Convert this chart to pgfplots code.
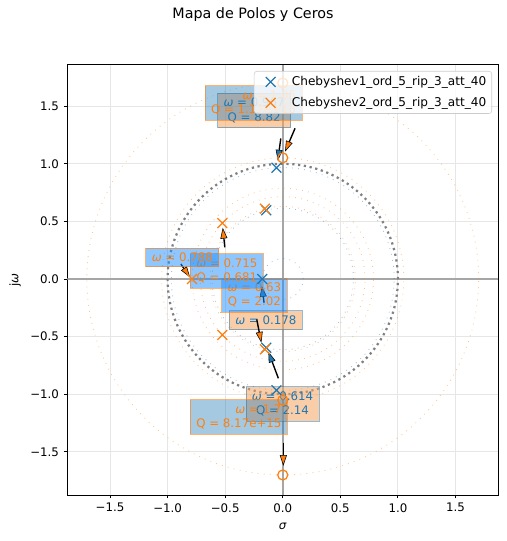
\documentclass[border=0pt]{standalone}
\usepackage{pgfplots}
\pgfplotsset{compat=1.18}
\usepackage{fontspec}
\setmainfont{DejaVu Sans}[ItalicFont={DejaVu Sans Oblique}]
\usetikzlibrary{arrows.meta}
\definecolor{tabblue}{RGB}{31,119,180}
\definecolor{taborange}{RGB}{255,127,14}
\definecolor{dodger}{RGB}{30,144,255}
\definecolor{sandy}{RGB}{244,164,96}
\definecolor{gridc}{RGB}{230,230,230}
\definecolor{legc}{RGB}{204,204,204}
\newcommand{\fs}{\fontsize{8.5}{10.2}\selectfont}
\newcommand{\w}{\textit{ω}}
\tikzset{
  boxA/.style={font=\fs, align=center, text=tabblue, fill=sandy, fill opacity=0.55, text opacity=1, draw=tabblue, draw opacity=0.5, line width=0.6pt, inner xsep=4.3pt, inner ysep=3.6pt},
  boxB/.style={font=\fs, align=center, text=taborange, fill=dodger, fill opacity=0.5, text opacity=1, draw=taborange, draw opacity=0.6, line width=0.6pt, inner xsep=4.3pt, inner ysep=3.6pt},
  boxZ/.style={font=\fs, align=right, text=taborange, fill=tabblue, fill opacity=0.4, text opacity=1, draw=taborange, draw opacity=0.6, line width=0.6pt, inner xsep=4.3pt, inner ysep=3.6pt},
  arA/.style={black, line width=1pt, -{Triangle[length=7.8pt, width=5pt, fill=tabblue, line width=0.4pt]}},
  arB/.style={black, line width=1pt, -{Triangle[length=7.8pt, width=5pt, fill=taborange, line width=0.4pt]}},
  circA/.style={tabblue, opacity=0.45, line width=0.6pt, dash pattern=on 0.6pt off 3.8pt},
  circB/.style={taborange, opacity=0.45, line width=0.6pt, dash pattern=on 0.6pt off 3.8pt},
}
\begin{document}
\begin{tikzpicture}
\begin{axis}[
  at={(0,0)}, anchor=south west, scale only axis,
  width=310.32pt, height=309.8pt,
  xmin=-1.871, xmax=1.872, ymin=-1.875, ymax=1.860,
  xtick={-1.5,-1,-0.5,0,0.5,1,1.5},
  xticklabels={−1.5,−1.0,−0.5,0.0,0.5,1.0,1.5},
  ytick={-1.5,-1,-0.5,0,0.5,1,1.5},
  yticklabels={−1.5,−1.0,−0.5,0.0,0.5,1.0,1.5},
  tick label style={font=\fs},
  tick align=outside, tick pos=left,
  major tick length=2.5pt,
  every tick/.style={black, line width=0.6pt},
  axis line style={line width=0.6pt},
  grid=major, grid style={gridc, line width=0.6pt},
  xlabel={\textit{σ}}, ylabel={j\textit{ω}},
  label style={font=\fs},
  xlabel style={at={(axis description cs:0.5,-0.072)}, anchor=center},
  ylabel style={at={(axis description cs:-0.121,0.5)}, anchor=center},
  legend style={at={(axis description cs:0.9854,0.9854)}, anchor=north east, font=\fontsize{8.7}{10.4}\selectfont,
    draw=legc, rounded corners=2pt, fill=white, fill opacity=0.8, text opacity=1,
    inner xsep=2pt, inner ysep=1.6pt, row sep=3pt},
  legend cell align=left,
  legend image code/.code={\path (0,0) (0.8cm,0); \draw[#1] plot coordinates {(0.34cm,0cm)};},
]
% axis lines
\addplot[forget plot, black!35, line width=1.4pt] coordinates {(0,-1.875) (0,1.86)};
\addplot[forget plot, black!35, line width=1.4pt] coordinates {(-1.871,0) (1.872,0)};
% circles
\draw[gray, line width=1.6pt, dash pattern=on 1.6pt off 2.6pt] (axis cs:0,0) circle[radius=1];
\draw[circA] (axis cs:0,0) circle[radius=0.9675];
\draw[circA] (axis cs:0,0) circle[radius=0.6140];
\draw[circA] (axis cs:0,0) circle[radius=0.1774];
\draw[circB] (axis cs:0,0) circle[radius=1.0515];
\draw[circB] (axis cs:0,0) circle[radius=1.7013];
\draw[circB] (axis cs:0,0) circle[radius=0.6305];
\draw[circB] (axis cs:0,0) circle[radius=0.7148];
\draw[circB] (axis cs:0,0) circle[radius=0.7878];
% poles and zeros
\addplot[only marks, mark=x, mark size=5pt, color=tabblue, mark options={line width=0.9pt}]
  coordinates {(-0.0548,0.9659) (-0.0548,-0.9659) (-0.1435,0.5971) (-0.1435,-0.5971) (-0.1774,0)};
\addlegendentry{Chebyshev1\_ord\_5\_rip\_3\_att\_40}
\addplot[only marks, mark=x, mark size=5pt, color=taborange, mark options={line width=0.9pt}]
  coordinates {(-0.1559,0.6109) (-0.1559,-0.6109) (-0.5248,0.4854) (-0.5248,-0.4854) (-0.7878,0)};
\addlegendentry{Chebyshev2\_ord\_5\_rip\_3\_att\_40}
\addplot[forget plot, only marks, mark=o, mark size=3.6pt, color=taborange, mark options={line width=0.9pt}]
  coordinates {(0,1.0515) (0,-1.0515) (0,1.7013) (0,-1.7013)};
% annotations Chebyshev1
\draw[arA] (axis cs:-0.017,1.220) -- (axis cs:-0.043,1.027);
\node[boxA] at (axis cs:-0.249,1.463) {\w{} = 0.967\\Q = 8.82};
\draw[arA] (axis cs:-0.038,-0.862) -- (axis cs:-0.125,-0.631);
\node[boxA] at (axis cs:-0.002,-1.085) {\w{} = 0.614\\Q = 2.14};
\draw[arA] (axis cs:-0.162,-0.206) -- (axis cs:-0.182,-0.061);
\node[boxA] at (axis cs:-0.147,-0.358) {\w{} = 0.178};
% annotations Chebyshev2
\draw[arB] (axis cs:0.107,1.308) -- (axis cs:0.020,1.105);
\node[boxZ] at (axis cs:-0.253,1.530) {\w{} = 1.05\\Q = 1.17e+15};
\draw[arB] (axis cs:0.005,-1.421) -- (axis cs:0.005,-1.623);
\node[boxZ] at (axis cs:-0.381,-1.196) {\w{} = 1.7\\Q = 8.17e+15};
\draw[arB] (axis cs:-0.226,-0.350) -- (axis cs:-0.186,-0.553);
\node[boxB] at (axis cs:-0.247,-0.141) {\w{} = 0.63\\Q = 2.02};
\draw[arB] (axis cs:-0.503,0.275) -- (axis cs:-0.521,0.445);
\node[boxB] at (axis cs:-0.485,0.069) {\w{} = 0.715\\Q = 0.681};
\draw[arB] (axis cs:-0.885,0.130) -- (axis cs:-0.805,0.015);
\node[boxB] at (axis cs:-0.872,0.187) {\w{} = 0.788};
\end{axis}
\node[font=\fontsize{10.3}{12}\selectfont, anchor=base] at (133.7pt,342.9pt) {Mapa de Polos y Ceros};
\pgfresetboundingbox
\path (-48.46pt,-33.12pt) rectangle (315.86pt,356.4pt);
\end{tikzpicture}
\end{document}
